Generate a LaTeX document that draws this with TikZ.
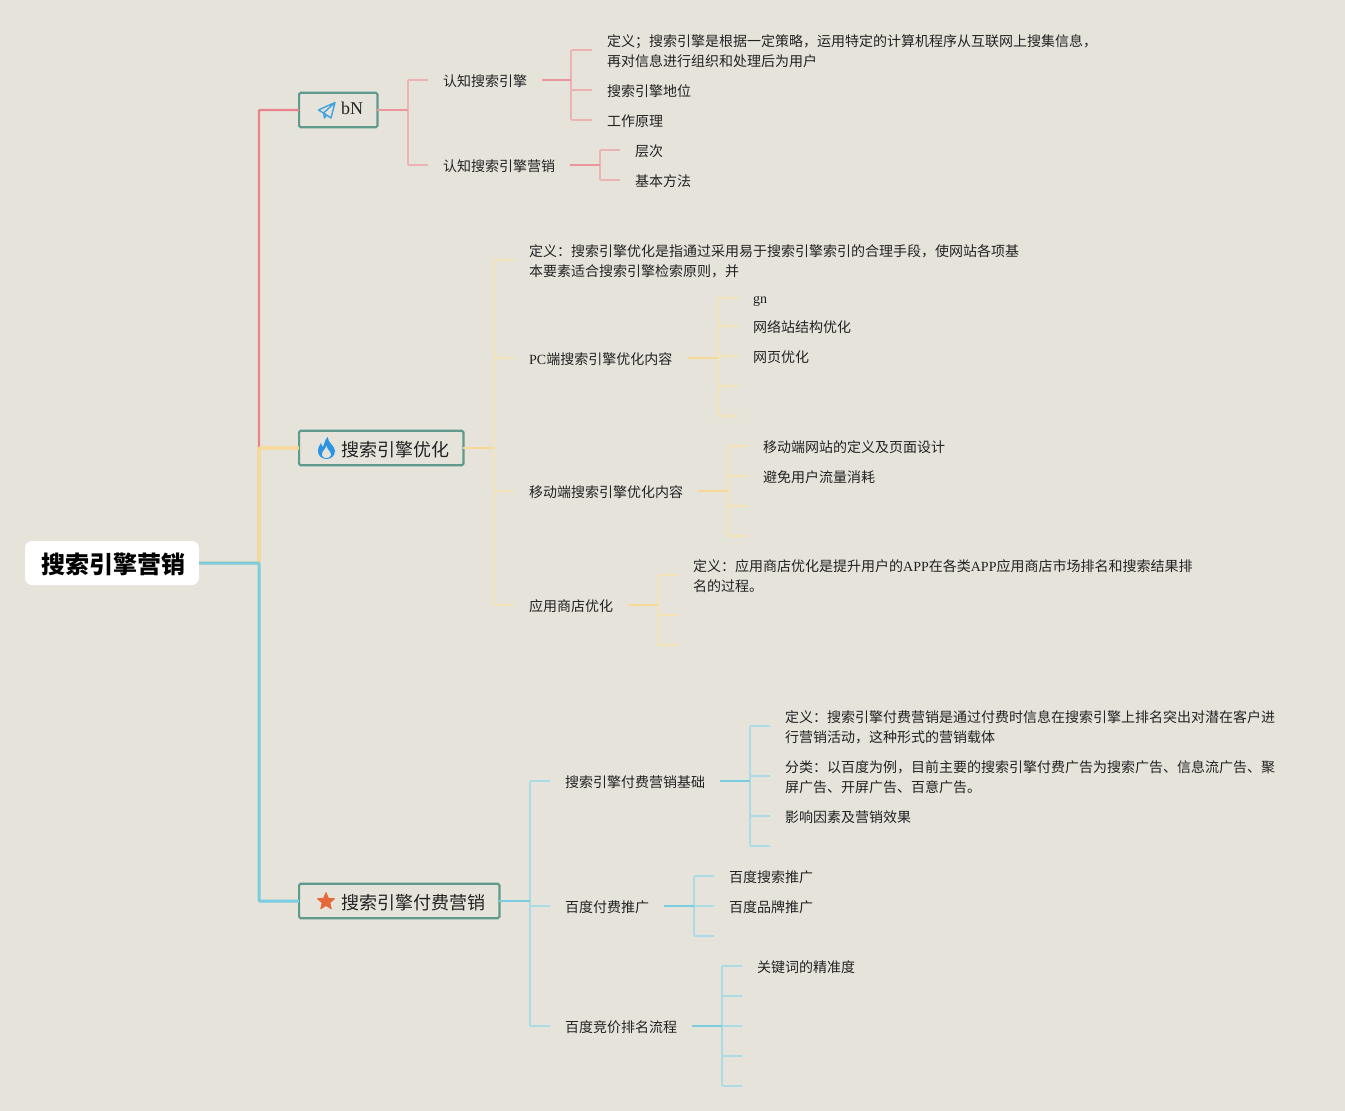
\documentclass[tikz,border=0pt]{standalone}
\usepackage{fontspec}
\setmainfont{Noto Sans CJK SC}
\newfontfamily\enfont{Liberation Serif}
\newcommand\en[1]{{\enfont #1}}
\newcommand\twol[2]{\raisebox{0pt}[35pt][2pt]{\vbox{\hbox{#1}\hbox{#2}}}}
\usetikzlibrary{shapes.geometric}
\definecolor{bgc}{HTML}{E6E3DB}
\definecolor{inkc}{HTML}{222222}
\definecolor{redm}{HTML}{E8838B}
\definecolor{redl}{HTML}{EDB2B2}
\definecolor{yelm}{HTML}{F7D993}
\definecolor{yell}{HTML}{F5E4B8}
\definecolor{blum}{HTML}{7ACDE0}
\definecolor{blul}{HTML}{ABDCE6}
\definecolor{boxc}{HTML}{5F9A8C}
\definecolor{iconb}{HTML}{3FA4DE}
\definecolor{flamec}{HTML}{2B95E3}
\definecolor{starc}{HTML}{E5693A}
\tikzset{
  leaf/.style={anchor=west,inner xsep=15pt,inner ysep=0pt,text=inkc,
    font=\fontsize{14}{20}\selectfont,execute at begin node={\rule{0pt}{14.5pt}}},
  topic/.style={draw=boxc,line width=2.2pt,rounded corners=1.5pt,anchor=west,minimum height=34.5pt,
    outer sep=0pt,inner xsep=14.4pt,inner ysep=0pt,text=inkc,font=\fontsize{18}{22}\selectfont},
  rootn/.style={fill=white,rounded corners=7pt,minimum width=174pt,minimum height=44pt,
    inner sep=0pt,text=black,font=\fontsize{24}{28}\selectfont\bfseries},
  mainr/.style={draw=redm,line width=2.2pt,rounded corners=1pt},
  mainy/.style={draw=yelm,line width=3.2pt,rounded corners=1pt},
  mainb/.style={draw=blum,line width=3pt,rounded corners=1pt},
  subr/.style={draw=redl,line width=1.6pt,rounded corners=1pt},
  suby/.style={draw=yell,line width=1.6pt,rounded corners=1pt},
  subb/.style={draw=blul,line width=1.6pt,rounded corners=1pt},
  outr/.style={draw=redm!85!white,line width=1.5pt},
  outy/.style={draw=yelm,line width=1.5pt},
  outb/.style={draw=blum,line width=1.5pt},
}
\newcommand\conn[4]{\draw[#1] (#2) -- (#2 -| #3) -- (#3 |- #4) -- (#4);}
\begin{document}
\begin{tikzpicture}[x=1pt,y=-1pt]
\path[fill=bgc,use as bounding box] (0,0) rectangle (1345,1111);
% root and topics
\node[rootn] (root) at (112,563) {\hspace*{2pt}\raisebox{0pt}[23pt][2.8pt]{搜索引擎营销}};
\node[topic] (t1) at (299.1,110) {\hspace*{27.5pt}\raisebox{0pt}[9pt][1pt]{\en{bN}}};
\node[topic] (t2) at (299.1,448) {\hspace*{27.5pt}\raisebox{0pt}[20pt][2.4pt]{搜索引擎优化}};
\node[topic] (t3) at (299.1,901) {\hspace*{27.5pt}\raisebox{0pt}[20pt][2.4pt]{搜索引擎付费营销}};
% icons
\draw[iconb,line width=1.4pt,line join=round] (335,102.5) -- (318.5,110) -- (323.5,113) -- (335,102.5) -- (331,118) -- (326.5,115) -- (323.5,113) -- (324.5,118) -- (326.5,115);
\fill[flamec] (327.5,437) .. controls (328,443) and (335,446) .. (335,451) .. controls (335,456) and (331,459) .. (326.5,459) .. controls (321,459) and (318,455) .. (318,451) .. controls (318,447) and (320,445) .. (321,443) .. controls (321.5,445) and (322,446) .. (323,447) .. controls (324,444) and (325,440) .. (327.5,437) -- cycle;
\fill[bgc] (326.5,446) .. controls (327,450) and (331,451) .. (331,455) .. controls (330.5,457) and (328,458) .. (326.5,458) .. controls (324.5,458) and (322,457) .. (322,455) .. controls (322,451) and (325,450) .. (326.5,446) -- cycle;
\node[star,star points=5,star point ratio=2.2,fill=starc,draw=starc,line width=.8pt,line join=round,minimum size=18pt,inner sep=0pt] (staricon) at (326,901.5) {};
% bus coordinates
\coordinate (b0) at (259,0);
\coordinate (b1) at (408,0);
\coordinate (b11) at (571,0);
\coordinate (b12) at (600,0);
\coordinate (b2) at (494,0);
\coordinate (b21) at (718,0);
\coordinate (b22) at (728,0);
\coordinate (b23) at (658,0);
\coordinate (b3) at (530,0);
\coordinate (b31) at (750,0);
\coordinate (b32) at (694,0);
\coordinate (b33) at (722,0);
% group 1 nodes
\node[leaf] (a1) at (428,80) {认知搜索引擎};
\node[leaf] (a2) at (428,165) {认知搜索引擎营销};
\node[leaf] (a11) at (592,50) {\twol{定义；搜索引擎是根据一定策略，运用特定的计算机程序从互联网上搜集信息，}{再对信息进行组织和处理后为用户}};
\node[leaf] (a12) at (592,90) {搜索引擎地位};
\node[leaf] (a13) at (592,120) {工作原理};
\node[leaf] (a21) at (620,150) {层次};
\node[leaf] (a22) at (620,180) {基本方法};
% group 2 nodes
\node[leaf] (c1) at (514,260) {\twol{定义：搜索引擎优化是指通过采用易于搜索引擎索引的合理手段，使网站各项基}{本要素适合搜索引擎检索原则，并}};
\node[leaf] (c2) at (514,358) {\en{PC}端搜索引擎优化内容};
\node[leaf] (c3) at (514,491) {移动端搜索引擎优化内容};
\node[leaf] (c4) at (514,605) {应用商店优化};
\node[leaf] (c21) at (738,298) {\en{gn}};
\node[leaf] (c22) at (738,326) {网络站结构优化};
\node[leaf] (c23) at (738,356) {网页优化};
\coordinate (c24) at (738,386);
\coordinate (c25) at (738,416);
\node[leaf] (c31) at (748,446) {移动端网站的定义及页面设计};
\node[leaf] (c32) at (748,476) {避免用户流量消耗};
\coordinate (c33) at (748,506);
\coordinate (c34) at (748,536);
\node[leaf] (c41) at (678,575) {\twol{定义：应用商店优化是提升用户的\en{APP}在各类\en{APP}应用商店市场排名和搜索结果排}{名的过程。}};
\coordinate (c42) at (678,615);
\coordinate (c43) at (678,645);
% group 3 nodes
\node[leaf] (d1) at (550,781) {搜索引擎付费营销基础};
\node[leaf] (d2) at (550,906) {百度付费推广};
\node[leaf] (d3) at (550,1026) {百度竞价排名流程};
\node[leaf] (d11) at (770,726) {\twol{定义：搜索引擎付费营销是通过付费时信息在搜索引擎上排名突出对潜在客户进}{行营销活动，这种形式的营销载体}};
\node[leaf] (d12) at (770,776) {\twol{分类：以百度为例，目前主要的搜索引擎付费广告为搜索广告、信息流广告、聚}{屏广告、开屏广告、百意广告。}};
\node[leaf] (d13) at (770,816) {影响因素及营销效果};
\coordinate (d14) at (770,846);
\node[leaf] (d21) at (714,876) {百度搜索推广};
\node[leaf] (d22) at (714,906) {百度品牌推广};
\coordinate (d23) at (714,936);
\node[leaf] (d31) at (742,966) {关键词的精准度};
\coordinate (d32) at (742,996);
\coordinate (d33) at (742,1026);
\coordinate (d34) at (742,1056);
\coordinate (d35) at (742,1086);
% main connectors
\conn{mainr}{root.east}{b0}{t1.west}
\conn{mainy}{root.east}{b0}{t2.west}
\conn{mainb}{root.east}{b0}{t3.west}
% group 1 connectors
\foreach \k in {a1,a2}{\conn{subr}{t1.east}{b1}{\k.west}}
\foreach \k in {a11,a12,a13}{\conn{subr}{a1.east}{b11}{\k.west}}
\foreach \k in {a21,a22}{\conn{subr}{a2.east}{b12}{\k.west}}
\draw[outr] (t1.east) -- (t1.east -| b1);
\draw[outr] (a1.east) -- (a1.east -| b11);
\draw[outr] (a2.east) -- (a2.east -| b12);
% group 2 connectors
\foreach \k in {c1,c2,c3,c4}{\conn{suby}{t2.east}{b2}{\k.west}}
\foreach \k in {c21.west,c22.west,c23.west,c24,c25}{\conn{suby}{c2.east}{b21}{\k}}
\foreach \k in {c31.west,c32.west,c33,c34}{\conn{suby}{c3.east}{b22}{\k}}
\foreach \k in {c41.west,c42,c43}{\conn{suby}{c4.east}{b23}{\k}}
\draw[outy] (t2.east) -- (t2.east -| b2);
\draw[outy] (c2.east) -- (c2.east -| b21);
\draw[outy] (c3.east) -- (c3.east -| b22);
\draw[outy] (c4.east) -- (c4.east -| b23);
% group 3 connectors
\foreach \k in {d1,d2,d3}{\conn{subb}{t3.east}{b3}{\k.west}}
\foreach \k in {d11.west,d12.west,d13.west,d14}{\conn{subb}{d1.east}{b31}{\k}}
\foreach \k in {d21.west,d22.west,d23}{\conn{subb}{d2.east}{b32}{\k}}
\foreach \k in {d31.west,d32,d33,d34,d35}{\conn{subb}{d3.east}{b33}{\k}}
\draw[outb] (t3.east) -- (t3.east -| b3);
\draw[outb] (d1.east) -- (d1.east -| b31);
\draw[outb] (d2.east) -- (d2.east -| b32);
\draw[outb] (d3.east) -- (d3.east -| b33);
\end{tikzpicture}
\end{document}
